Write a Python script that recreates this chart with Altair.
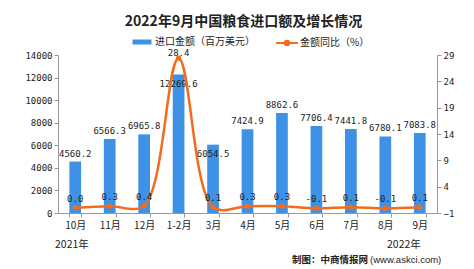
import altair as alt
import pandas as pd

months = ["10月", "11月", "12月", "1-2月", "3月", "4月", "5月", "6月", "7月", "8月", "9月"]
amounts = [4560.2, 6566.3, 6965.8, 12269.6, 6054.5, 7424.9, 8862.6, 7706.4, 7441.8, 6780.1, 7083.8]
yoy = [0.0, 0.3, 0.4, 28.4, 0.1, 0.3, 0.3, -0.1, 0.1, -0.1, 0.1]
left_ticks = [0, 2000, 4000, 6000, 8000, 10000, 12000, 14000]
right_ticks = [-1, 4, 9, 14, 19, 24, 29]
series_bar = "进口金额（百万美元）"
series_line = "金额同比（%）"
title_text = "2022年9月中国粮食进口额及增长情况"
year_left = "2021年"
year_right = "2022年"
source_a = "制图：中商情报网"
source_b = "(www.askci.com)"

df = pd.DataFrame({"月份": months, "金额": amounts, "同比": yoy})
df["s1"] = series_bar
df["s2"] = series_line
df["金额标签"] = [f"{v:.1f}" for v in amounts]
df["同比标签"] = [f"{v:.1f}" for v in yoy]

BLUE = "#3d92e6"
ORANGE = "#f26c1e"
CJK = "Noto Sans CJK SC"
MONO = "DejaVu Sans Mono"

x = alt.X("月份:N", sort=months,
          scale=alt.Scale(paddingInner=0.66, paddingOuter=0.33),
          axis=alt.Axis(title=None, labelAngle=0, labelFont=CJK, labelFontSize=10,
                        labelColor="#222", domainColor="#999", tickColor="#999",
                        tickBand="extent", tickSize=4, labelPadding=3))
xs = alt.X("月份:N", sort=months)

base = alt.Chart(df)

yl_axis = alt.Axis(title=None, values=left_ticks, grid=False, labelFont=MONO,
                   format="d", labelOverlap=False,
                   labelFontSize=9, labelColor="#222", domainColor="#999",
                   tickColor="#999", tickSize=4, labelPadding=2)
yl = alt.Y("金额:Q", scale=alt.Scale(domain=[0, 14000], nice=False), axis=yl_axis)

bars = base.mark_bar().encode(
    x=x, y=yl,
    color=alt.Color("s1:N", scale=alt.Scale(range=[BLUE]),
                    legend=alt.Legend(title=None, orient="none", legendX=79, legendY=-18,
                                      symbolType="M-1.9,-0.5H1.9V0.5H-1.9Z", symbolSize=100,
                                      symbolStrokeWidth=0, labelFont=CJK, labelFontSize=10,
                                      labelColor="#222", labelOffset=8, padding=0)))

outside = "datum['月份'] !== '1-2月' && datum['月份'] !== '3月'"
bar_lab_out = base.transform_filter(outside).mark_text(
    baseline="bottom", dy=-3, font=MONO, fontSize=9, color="#222").encode(
    x=xs, y=yl, text="金额标签:N")
bar_lab_in = base.transform_filter("!(" + outside + ")").mark_text(
    baseline="top", dy=5, font=MONO, fontSize=9, color="#222").encode(
    x=xs, y=yl, text="金额标签:N")

left = alt.layer(bars, bar_lab_out, bar_lab_in)

yr_axis = alt.Axis(title=None, orient="right", values=right_ticks, grid=False,
                   labelOverlap=False,
                   labelFont=MONO, labelFontSize=9, labelColor="#222",
                   domainColor="#999", tickColor="#999", tickSize=4, labelPadding=2)
yr = alt.Y("同比:Q", scale=alt.Scale(domain=[-1, 29], nice=False, zero=False), axis=yr_axis)

line = base.mark_line(interpolate="catmull-rom", strokeWidth=2.5).encode(
    x=xs, y=yr,
    color=alt.Color("s2:N", scale=alt.Scale(range=[ORANGE]),
                    legend=alt.Legend(title=None, orient="none", legendX=223, legendY=-18,
                                      symbolType="M-2.2,0H2.2M-0.45,0A0.45,0.45 0 1,1 0.45,0A0.45,0.45 0 1,1 -0.45,0",
                                      symbolSize=100, symbolStrokeWidth=2,
                                      symbolStrokeColor=ORANGE, symbolFillColor=ORANGE,
                                      labelFont=CJK, labelFontSize=10, labelColor="#222",
                                      labelOffset=7, padding=0)))
pts = base.mark_point(filled=True, size=28, color=ORANGE, opacity=1).encode(
    x=xs, y=yr)
line_lab_low = base.transform_filter("datum['同比'] < 10").mark_text(
    baseline="bottom", dy=-4, font=MONO, fontSize=9, color="#222").encode(
    x=xs, y=yr, text="同比标签:N")
line_lab_high = base.transform_filter("datum['同比'] >= 10").mark_text(
    baseline="bottom", dy=0, font=MONO, fontSize=9, color="#222").encode(
    x=xs, y=yr, text="同比标签:N")

right = alt.layer(line, pts, line_lab_low, line_lab_high)

t1 = alt.Chart(pd.DataFrame({"t": [year_left]})).mark_text(
    font=CJK, fontSize=10.5, color="#222", align="left", baseline="middle").encode(
    x=alt.value(-3), y=alt.value(190), text="t:N")
t2 = alt.Chart(pd.DataFrame({"t": [year_right]})).mark_text(
    font=CJK, fontSize=10.5, color="#222", align="left", baseline="middle").encode(
    x=alt.value(329), y=alt.value(190), text="t:N")
t3 = alt.Chart(pd.DataFrame({"t": [source_a]})).mark_text(
    font=CJK, fontSize=9.5, fontWeight="bold", color="#222", align="left", baseline="middle").encode(
    x=alt.value(234), y=alt.value(205), text="t:N")
t4 = alt.Chart(pd.DataFrame({"t": [source_b]})).mark_text(
    font="Liberation Sans", fontSize=9.5, color="#222", align="left", baseline="middle").encode(
    x=alt.value(312), y=alt.value(205), text="t:N")

chart = alt.layer(left, right, t1, t2, t3, t4).resolve_scale(
    y="independent", color="independent").resolve_legend(color="independent").properties(
    width=379, height=158,
    autosize=alt.AutoSizeParams(type="none"),
    padding={"left": 58, "top": 55, "right": 37, "bottom": 56},
    background="white",
    title=alt.TitleParams(title_text, font=CJK, fontSize=14, fontWeight="bold",
                          color="#222", anchor="middle", dx=-4, offset=8)
).configure_view(stroke=None).configure_axis(labelOverlap=False)

chart.save("out.html", embed_options={"renderer": "svg", "actions": False})
